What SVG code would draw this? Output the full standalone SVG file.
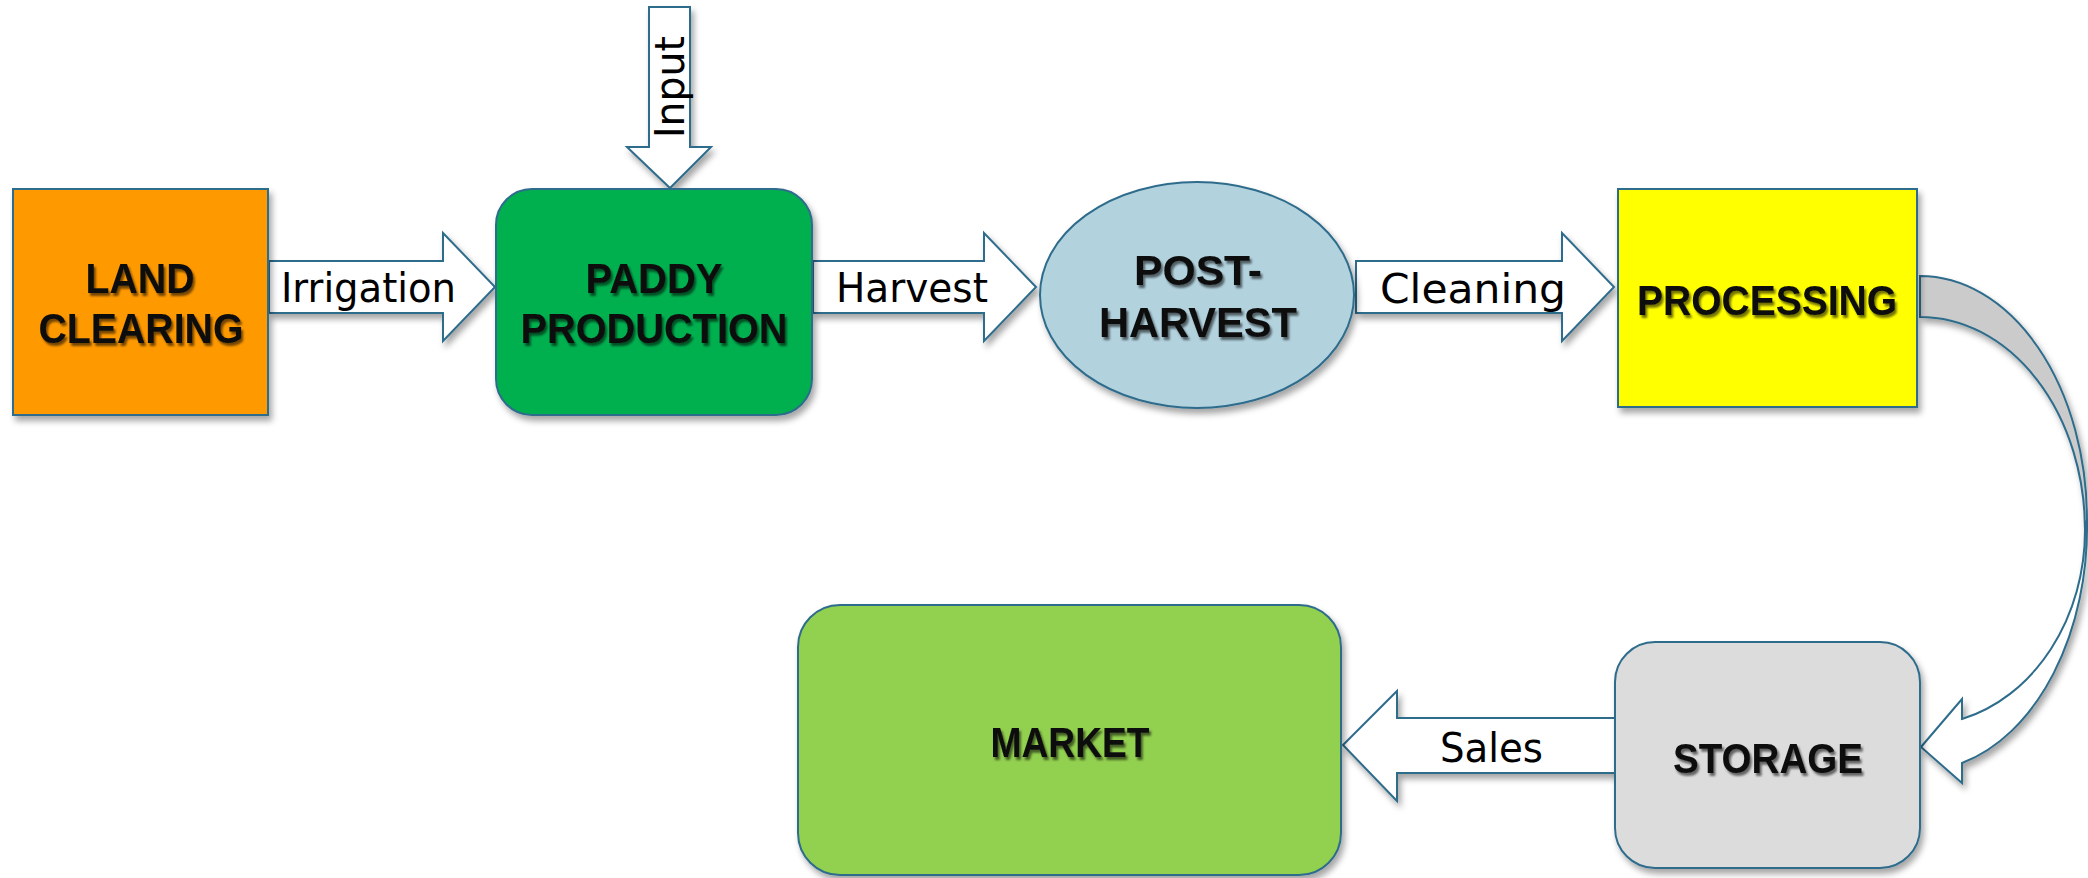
<svg xmlns="http://www.w3.org/2000/svg" width="2088" height="878" viewBox="0 0 2088 878">
<defs>
<filter id="sh" x="-10%" y="-10%" width="125%" height="130%">
<feDropShadow dx="3" dy="5" stdDeviation="3" flood-color="#000" flood-opacity="0.35"/>
</filter>
<filter id="ts" x="-5%" y="-20%" width="115%" height="150%">
<feDropShadow dx="2" dy="3" stdDeviation="1.2" flood-color="#000" flood-opacity="0.55"/>
</filter>
<style>
.s{stroke:#2F6C8C;stroke-width:2}
.b{font-family:"Liberation Sans",Arial,sans-serif;font-weight:bold;font-size:42px;fill:#0D0D0D}
.l{font-family:"DejaVu Sans",sans-serif;font-size:40px;fill:#000}
</style>
</defs>
<rect width="2088" height="878" fill="#fff"/>
<g id="connectors">
<path class="s" fill="#fff" filter="url(#sh)" d="M269,261 L443,261 L443,233 L495,287 L443,341 L443,313 L269,313 Z"/>
<text class="l" x="281" y="302" textLength="175" lengthAdjust="spacingAndGlyphs">Irrigation</text>
<path class="s" fill="#fff" filter="url(#sh)" d="M813,261 L984,261 L984,233 L1036,287 L984,341 L984,313 L813,313 Z"/>
<text class="l" x="836" y="302" textLength="152" lengthAdjust="spacingAndGlyphs">Harvest</text>
<path class="s" fill="#fff" filter="url(#sh)" d="M1356,261 L1562,261 L1562,233 L1614,287 L1562,341 L1562,313 L1356,313 Z"/>
<text class="l" x="1380" y="303" textLength="186" lengthAdjust="spacingAndGlyphs">Cleaning</text>
<path class="s" fill="#fff" filter="url(#sh)" d="M649,7 L690,7 L690,147 L711,147 L670,188 L627,147 L649,147 Z"/>
<text class="l" transform="translate(684,87) rotate(-90)" text-anchor="middle" textLength="102" lengthAdjust="spacingAndGlyphs">Input</text>
<path class="s" fill="#fff" filter="url(#sh)" d="M1616,718 L1397,718 L1397,691 L1343,745 L1397,801 L1397,773 L1616,773 Z"/>
<text class="l" x="1440" y="762" textLength="103" lengthAdjust="spacingAndGlyphs">Sales</text>
<g filter="url(#sh)">
<path class="s" fill="#CBCBCB" d="M1920,276 A167,244 0 0 1 2087,520 L2085,530 A165,213 0 0 0 1920,317 Z"/>
<path class="s" fill="#fff" d="M2087,520 A167,244 0 0 1 1962,763 L1962,783 L1921,747 L1962,699 L1962,719 A165,195 0 0 0 2085,530 Z"/>
</g>
</g>
<g id="land-clearing">
<rect class="s" x="13" y="189" width="255" height="226" fill="#FF9900" filter="url(#sh)"/>
<g filter="url(#ts)">
<text class="b" x="140" y="293" text-anchor="middle" textLength="109" lengthAdjust="spacingAndGlyphs">LAND</text>
<text class="b" x="141" y="343" text-anchor="middle" textLength="205" lengthAdjust="spacingAndGlyphs">CLEARING</text>
</g>
</g>
<g id="paddy-production">
<rect class="s" x="496" y="189" width="316" height="226" rx="36" fill="#00B050" filter="url(#sh)"/>
<g filter="url(#ts)">
<text class="b" x="654" y="293" text-anchor="middle" textLength="137" lengthAdjust="spacingAndGlyphs">PADDY</text>
<text class="b" x="654" y="343" text-anchor="middle" textLength="267" lengthAdjust="spacingAndGlyphs">PRODUCTION</text>
</g>
</g>
<g id="post-harvest">
<ellipse class="s" cx="1197" cy="295" rx="157" ry="113" fill="#B2D2DE" filter="url(#sh)"/>
<g filter="url(#ts)">
<text class="b" x="1134" y="285" textLength="128" lengthAdjust="spacingAndGlyphs">POST-</text>
<text class="b" x="1198" y="337" text-anchor="middle" textLength="198" lengthAdjust="spacingAndGlyphs">HARVEST</text>
</g>
</g>
<g id="processing">
<rect class="s" x="1618" y="189" width="299" height="218" fill="#FFFF00" filter="url(#sh)"/>
<text class="b" x="1767" y="315" text-anchor="middle" textLength="260" lengthAdjust="spacingAndGlyphs" filter="url(#ts)">PROCESSING</text>
</g>
<g id="storage">
<rect class="s" x="1615" y="642" width="305" height="226" rx="40" fill="#DCDCDC" filter="url(#sh)"/>
<text class="b" x="1768" y="773" text-anchor="middle" textLength="190" lengthAdjust="spacingAndGlyphs" filter="url(#ts)">STORAGE</text>
</g>
<g id="market">
<rect class="s" x="798" y="605" width="543" height="270" rx="42" fill="#92D050" filter="url(#sh)"/>
<text class="b" x="1070" y="757" text-anchor="middle" textLength="159" lengthAdjust="spacingAndGlyphs" filter="url(#ts)">MARKET</text>
</g>
</svg>
